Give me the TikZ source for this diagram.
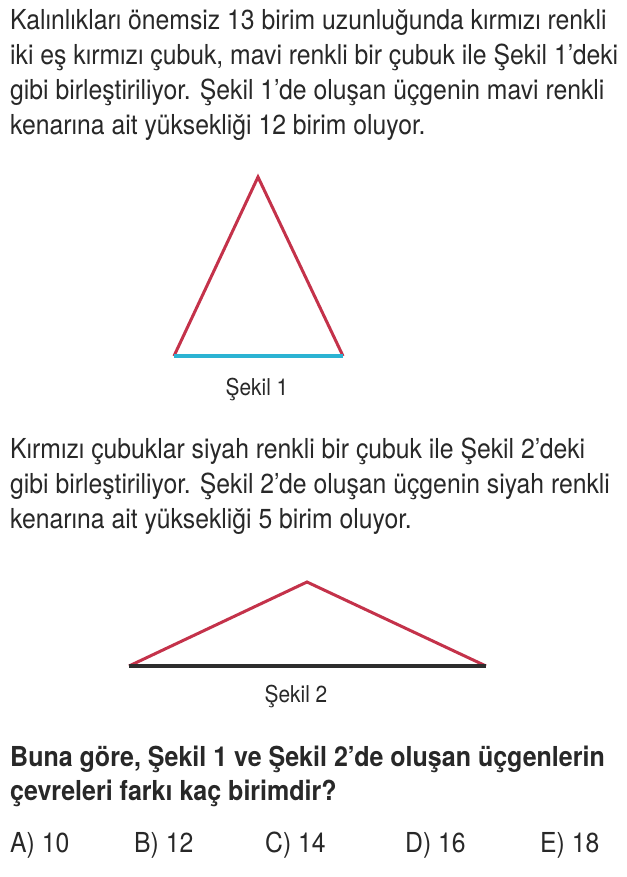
\documentclass[tikz,border=0pt]{standalone}
\usepackage{fontspec}
\setmainfont{TeX Gyre Heros}[FakeStretch=0.9,BoldFeatures={FakeStretch=0.91}]
\definecolor{rodred}{RGB}{196,50,74}
\definecolor{rodblue}{RGB}{43,179,211}
\definecolor{rodblack}{RGB}{45,45,45}
\definecolor{txt}{RGB}{40,40,40}
\begin{document}
\begin{tikzpicture}[x=1pt,y=-1pt,
  txtline/.style={anchor=base west,inner sep=0pt,font=\fontsize{27.5}{30}\selectfont,text=txt},
  boldline/.style={txtline,font=\fontsize{27.5}{30}\selectfont\bfseries},
  caption/.style={anchor=base,inner sep=0pt,font=\fontsize{23.2}{26}\selectfont,text=txt},
  redrod/.style={draw=rodred,line width=3pt,line join=miter},
  bluerod/.style={draw=rodblue,line width=3.5pt},
  blackrod/.style={draw=rodblack,line width=3.5pt}]
\useasboundingbox (0,0) rectangle (626,877);
\fill[white] (0,0) rectangle (626,877);
% paragraph 1
\node[txtline] (p1a) at (10,30) {Kalınlıkları önemsiz 13 birim uzunluğunda kırmızı renkli};
\node[txtline] (p1b) at (10,65) {iki eş kırmızı çubuk, mavi renkli bir çubuk ile Şekil 1’deki};
\node[txtline] (p1c) at (10,100) {gibi birleştiriliyor. Şekil 1’de oluşan üçgenin mavi renkli};
\node[txtline] (p1d) at (10,135) {kenarına ait yüksekliği 12 birim oluyor.};
% figure 1
\coordinate (A1) at (258,177);
\coordinate (B1) at (174,356);
\coordinate (C1) at (343,356);
\draw[redrod] (B1) -- (A1) -- (C1);
\draw[bluerod] (B1) -- (C1);
\node[caption] (cap1) at (257,395) {Şekil 1};
% paragraph 2
\node[txtline] (p2a) at (10,458) {Kırmızı çubuklar siyah renkli bir çubuk ile Şekil 2’deki};
\node[txtline] (p2b) at (10,493) {gibi birleştiriliyor. Şekil 2’de oluşan üçgenin siyah renkli};
\node[txtline] (p2c) at (10,528) {kenarına ait yüksekliği 5 birim oluyor.};
% figure 2
\coordinate (A2) at (307,582);
\coordinate (B2) at (129,666);
\coordinate (C2) at (486,666);
\draw[redrod] (B2) -- (A2) -- (C2);
\draw[blackrod] (B2) -- (C2);
\node[caption] (cap2) at (296,702) {Şekil 2};
% question
\node[boldline] (q1) at (10,766) {Buna göre, Şekil 1 ve Şekil 2’de oluşan üçgenlerin};
\node[boldline] (q2) at (10,800) {çevreleri farkı kaç birimdir?};
% options
\node[txtline] (oA) at (10,852) {A) 10};
\node[txtline] (oB) at (134,852) {B) 12};
\node[txtline] (oC) at (265,852) {C) 14};
\node[txtline] (oD) at (405,852) {D) 16};
\node[txtline] (oE) at (540,852) {E) 18};
\end{tikzpicture}
\end{document}
